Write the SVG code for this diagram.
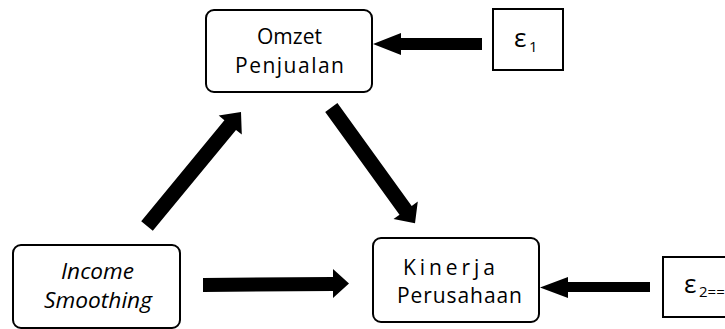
<svg xmlns="http://www.w3.org/2000/svg" width="725" height="329" viewBox="0 0 725 329">
<style>
.box{fill:#fff;stroke:#000;stroke-width:2}
.t{font-family:"Open Sans","Liberation Sans",sans-serif;font-size:21px;fill:#000}
.it{font-style:italic}
.eps{font-family:"Open Sans","Liberation Sans",sans-serif;font-size:26px;fill:#000}
.sub{font-family:"Open Sans","Liberation Sans",sans-serif;font-size:15px;fill:#000}
.arr{fill:#000;stroke:none}
</style>
<rect width="725" height="329" fill="#fff"/>
<g id="connectors">
<polygon class="arr" points="482,38 401,38 401,33 373,44 401,55 401,50 482,50"/>
<polygon class="arr" points="203,278 333,277 333,269 349,283.5 333,298 333,291 203,292"/>
<polygon class="arr" points="650,282 568,282 568,277 540,287.5 568,298 568,292 650,292"/>
<polygon class="arr" points="152.8,230.8 236,129.9 241.8,134.6 241,112 218.7,115.6 224.4,120.3 141.2,221.2"/>
<polygon class="arr" points="325.2,111.9 399.5,214.7 393.5,219.1 415,223.3 417.8,201.5 411.7,205.9 337.4,103.1"/>
</g>
<g id="omzet">
<rect class="box" x="206" y="10" width="166" height="82" rx="8"/>
<text class="t" x="257" y="44" textLength="65" lengthAdjust="spacingAndGlyphs">Omzet</text>
<text class="t" x="235" y="73" textLength="109" lengthAdjust="spacing">Penjualan</text>
</g>
<g id="eps1">
<rect class="box" x="493" y="9" width="70" height="61"/>
<text class="eps" x="514" y="47">ε</text>
<text class="sub" x="529" y="52">1</text>
</g>
<g id="income">
<rect class="box" x="13" y="245" width="167" height="83" rx="8"/>
<text class="t it" x="61" y="279" textLength="73" lengthAdjust="spacingAndGlyphs">Income</text>
<text class="t it" x="44" y="308" textLength="108" lengthAdjust="spacingAndGlyphs">Smoothing</text>
</g>
<g id="kinerja">
<rect class="box" x="373" y="238" width="166" height="84" rx="8"/>
<text class="t" x="403" y="275" textLength="92" lengthAdjust="spacing">Kinerja</text>
<text class="t" x="397" y="303" textLength="125" lengthAdjust="spacing">Perusahaan</text>
</g>
<g id="eps2">
<rect class="box" x="663" y="257" width="80" height="60"/>
<text class="eps" x="684" y="293">ε</text>
<text class="sub" x="699" y="297">2===</text>
</g>
</svg>
